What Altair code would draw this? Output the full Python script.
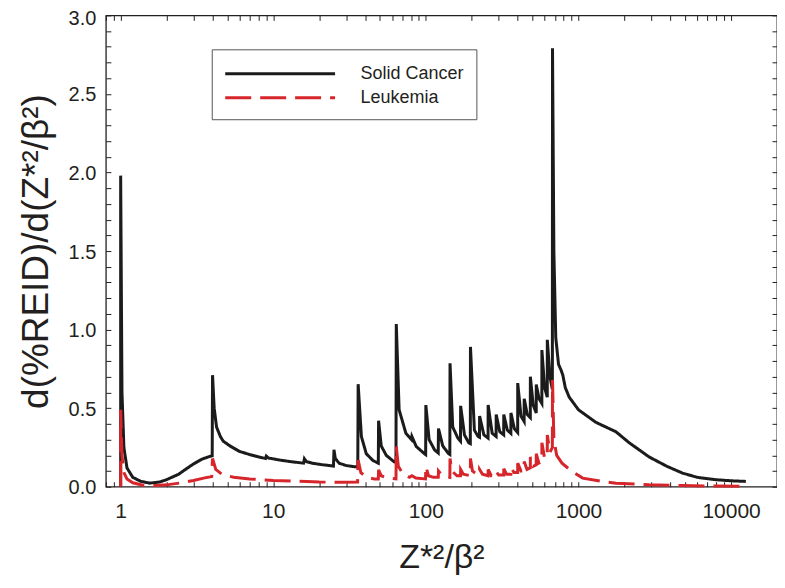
import altair as alt
import pandas as pd

# ---------------- data ----------------
solid_x = [1.0, 1.0, 1.02, 1.05, 1.1, 1.2, 1.35, 1.55, 1.8, 2.0, 2.4, 2.7, 3.0, 3.4, 3.8, 3.98,
           4.0, 4.1, 4.25, 4.5, 4.7, 5.2, 6.0, 7.0, 8.0, 8.9, 9.0, 9.3, 11, 13, 15.8, 16.0, 16.5,
           18, 21, 24.8, 25.0, 25.5, 27, 30, 35.8,
           36, 37.8, 40.7, 45, 48.8,
           49, 51, 55, 61.7, 63.7,
           64, 66.8, 74, 80.5, 81, 86.5, 98, 99.7,
           100, 105, 114, 120.5, 121, 129, 141, 143.6,
           144, 150, 162, 168.6, 169, 179, 191, 195.6,
           196, 208, 220, 224.6, 225, 240, 255.6, 256, 272, 288.6, 289, 305, 323.6,
           324, 342, 360.6, 361, 380, 399.6, 400, 420, 440.6, 441, 462, 483.6,
           484, 505, 528.6, 529, 552, 575.6, 576, 600, 624.6, 625, 650, 674.5,
           676, 690, 710, 740, 771, 790, 820, 870, 1000, 1300, 1760, 2150, 2900, 3800,
           4800, 6000, 7900, 10000, 12500]
solid_y = [0.0, 1.98, 0.6, 0.25, 0.12, 0.06, 0.035, 0.023, 0.03, 0.045, 0.08, 0.115, 0.145, 0.175, 0.192, 0.197,
           0.71, 0.5, 0.38, 0.32, 0.29, 0.26, 0.225, 0.205, 0.19, 0.18, 0.195, 0.183, 0.17, 0.16, 0.15, 0.178, 0.16,
           0.15, 0.14, 0.132, 0.235, 0.18, 0.15, 0.135, 0.125,
           0.653, 0.32, 0.21, 0.167, 0.15,
           0.42, 0.26, 0.2, 0.16, 0.155,
           1.035, 0.49, 0.34, 0.3, 0.32, 0.256, 0.21, 0.205,
           0.52, 0.30, 0.235, 0.215, 0.37, 0.26, 0.21, 0.205,
           0.786, 0.38, 0.31, 0.29, 0.515, 0.33, 0.28, 0.275,
           0.89, 0.36, 0.32, 0.315, 0.45, 0.33, 0.31, 0.52, 0.34, 0.32, 0.46, 0.35, 0.33,
           0.46, 0.36, 0.34, 0.47, 0.37, 0.345, 0.66, 0.45, 0.415, 0.56, 0.46, 0.44,
           0.70, 0.52, 0.47, 0.65, 0.56, 0.53, 0.87, 0.63, 0.57, 0.935, 0.7, 0.62,
           2.79, 1.5, 0.95, 0.78, 0.74, 0.71, 0.63, 0.57, 0.49, 0.41, 0.35, 0.28, 0.19, 0.13,
           0.087, 0.06, 0.045, 0.038, 0.034]

leuk_x = [1.0, 1.0, 1.02, 1.05, 1.1, 1.2, 1.4, 1.7, 2.0, 2.5, 3.0, 3.5, 3.95,
          4.0, 4.2, 4.6, 5.5, 7, 10, 15, 20, 28, 35.7,
          36, 37.5, 41, 46, 48.8,
          49, 51, 56, 63.7,
          64, 66, 71, 78, 81, 86, 99.5,
          100, 104, 112, 120.6, 121, 128, 143.6,
          144, 148, 160, 168.6, 169, 176, 195.6,
          196, 202, 215, 224.6, 225, 235, 255.6, 256, 268, 288.6, 289, 300, 323.6,
          324, 338, 360.6, 361, 378, 399.6, 400, 420, 440.6, 441, 460, 483.6,
          484, 505, 528.6, 529, 550, 575.6, 576, 600, 624.6, 625, 650, 674.5,
          676, 690, 720, 780, 900, 1065, 1400, 1760, 2900, 4800, 7900, 12500]
leuk_y = [0.0, 0.49, 0.2, 0.09, 0.05, 0.025, 0.01, 0.008, 0.012, 0.025, 0.04, 0.055, 0.065,
          0.18, 0.11, 0.08, 0.06, 0.05, 0.04, 0.035, 0.03, 0.028, 0.03,
          0.17, 0.09, 0.06, 0.05, 0.05,
          0.108, 0.07, 0.055, 0.05,
          0.256, 0.13, 0.08, 0.06, 0.07, 0.055, 0.05,
          0.13, 0.07, 0.06, 0.06, 0.10, 0.07, 0.06,
          0.18, 0.10, 0.07, 0.07, 0.11, 0.08, 0.07,
          0.18, 0.10, 0.08, 0.08, 0.11, 0.08, 0.07, 0.11, 0.07, 0.07, 0.095, 0.075, 0.075,
          0.115, 0.08, 0.08, 0.125, 0.09, 0.09, 0.15, 0.10, 0.10, 0.16, 0.11, 0.12,
          0.19, 0.13, 0.14, 0.21, 0.15, 0.16, 0.28, 0.18, 0.2, 0.33, 0.22, 0.25,
          0.68, 0.3, 0.2, 0.15, 0.1, 0.055, 0.035, 0.023, 0.013, 0.008, 0.004, 0.002]

series_names = ["Solid Cancer", "Leukemia"]
series_colors = ["#1b1b1b", "#d7262b"]
series_dashes = [[1, 0], [26, 9]]

x_ticks = [0.8, 0.9] + [d * m for d in [1, 10, 100, 1000] for m in range(1, 10)] + [10000, 20000]
y_ticks = [round(k * 0.1, 1) for k in range(31)]

rows = []
for name, xs, ys in [(series_names[0], solid_x, solid_y), (series_names[1], leuk_x, leuk_y)]:
    for i, (xv, yv) in enumerate(zip(xs, ys)):
        rows.append({"x": xv, "y": yv, "series": name, "i": i})
df = pd.DataFrame(rows)

FONT = "Liberation Sans"
INK = "#231f20"

x_scale = alt.Scale(type="log", domain=[0.8, 20000], nice=False)
y_scale = alt.Scale(domain=[0, 3], nice=False, zero=False)

x_label_expr = ("abs(log(datum.value)/LN10 - round(log(datum.value)/LN10)) < 1e-6 && datum.value >= 1"
                " ? format(datum.value, 'd') : ''")
y_label_expr = "round(datum.value*10) % 5 == 0 ? format(datum.value, '.1f') : ''"

common_axis = dict(domain=False, grid=False, tickSize=5, offset=-5, tickColor=INK, tickWidth=1,
                   labelFont=FONT, labelColor=INK, labelOverlap=False, labelFlush=False,
                   titleFont=FONT, titleColor=INK, titleFontWeight="normal")

lines = alt.Chart(df).mark_line(strokeWidth=3, strokeJoin="miter", strokeCap="butt").encode(
    x=alt.X("x:Q", scale=x_scale,
            axis=alt.Axis(orient="bottom", values=x_ticks, labelExpr=x_label_expr, labelFontSize=21,
                          labelPadding=14, title="Z*²/β²", titleFontSize=34, titlePadding=19,
                          **common_axis)),
    y=alt.Y("y:Q", scale=y_scale,
            axis=alt.Axis(orient="left", values=y_ticks, labelExpr=y_label_expr, labelFontSize=20,
                          labelOffset={"expr": "datum.value >= 2.95 ? 3 : 1"},
                          labelPadding=10, title="d(%REID)/d(Z*²/β²)",
                          titleFontSize=37, titlePadding=13, **common_axis)),
    color=alt.Color("series:N", scale=alt.Scale(domain=series_names, range=series_colors),
                    legend=alt.Legend(title=None)),
    strokeDash=alt.StrokeDash("series:N", scale=alt.Scale(domain=series_names, range=series_dashes),
                              legend=alt.Legend(title=None)),
    detail="series:N",
    order="i:Q",
)

mirror = alt.Chart(df).mark_line(opacity=0).encode(
    x=alt.X("x:Q", scale=x_scale,
            axis=alt.Axis(orient="top", values=x_ticks, labels=False, title=None, **common_axis)),
    y=alt.Y("y:Q", scale=y_scale,
            axis=alt.Axis(orient="right", values=y_ticks, labels=False, title=None, **common_axis)),
    detail="series:N",
    order="i:Q",
)

chart = alt.layer(lines, mirror).resolve_axis(x="independent", y="independent").properties(
    width=672, height=472,
    autosize=alt.AutoSizeParams(type="none"),
    padding={"left": 98, "top": 7, "right": 0, "bottom": 93},
).configure_view(
    stroke=INK, strokeWidth=1.3,
).configure_legend(
    orient="none", legendX=106, legendY=34,
    strokeColor="#555555", fillColor="white", padding=12,
    labelFont=FONT, labelFontSize=18, labelColor=INK, labelOffset=112,
    symbolType="M-1,0H9", symbolSize=484, symbolStrokeWidth=3, rowPadding=2,
)

chart.save("out.html", embed_options={"renderer": "svg", "actions": False})
